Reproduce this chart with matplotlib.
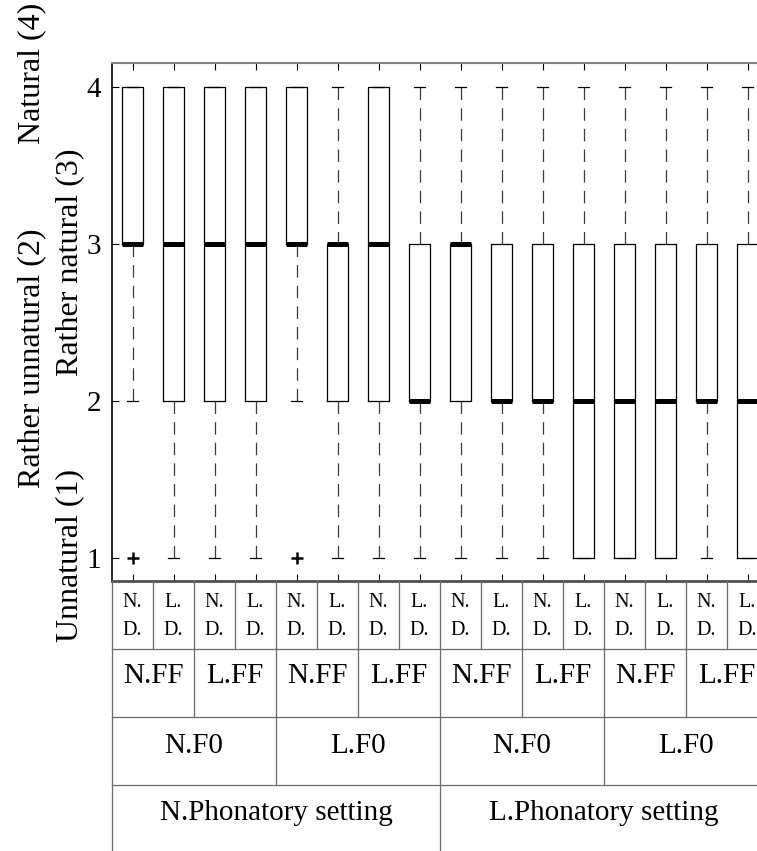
from matplotlib import pyplot as plt

plt.rcParams['font.family'] = ['Liberation Serif', 'DejaVu Serif']

# box statistics per condition (ratings 1..4)
q1 = [3, 2, 2, 2, 3, 2, 2, 2, 2, 2, 2, 1, 1, 1, 2, 1]
medians = [3, 3, 3, 3, 3, 3, 3, 2, 3, 2, 2, 2, 2, 2, 2, 2]
q3 = [4, 4, 4, 4, 4, 3, 4, 3, 3, 3, 3, 3, 3, 3, 3, 3]
whis_lo = [2, 1, 1, 1, 2, 1, 1, 1, 1, 1, 1, 1, 1, 1, 1, 1]
whis_hi = [4, 4, 4, 4, 4, 4, 4, 4, 4, 4, 4, 4, 4, 4, 4, 4]
outliers = [[1], [], [], [], [1], [], [], [], [], [], [], [], [], [], [], []]

# labels of the condition table under the plot
dur_top = ['N.', 'L.'] * 8
dur_bottom = ['D.'] * 16
ff_labels = ['N.FF', 'L.FF'] * 4
f0_labels = ['N.F0', 'L.F0'] * 2
setting_labels = ['N.Phonatory setting', 'L.Phonatory setting']
y_ticks = [1, 2, 3, 4]
y_names = ['Natural (4)', 'Rather unnatural (2)', 'Rather natural (3)', 'Unnatural (1)']

W, H = 757, 851
fig = plt.figure(figsize=(W / 100, H / 100), dpi=100)

# main axes (right edge runs past the picture, like the original crop)
ax_l, ax_r, ax_t, ax_b = 112, 768, 63, 581
ax = fig.add_axes([ax_l / W, 1 - ax_b / H, (ax_r - ax_l) / W, (ax_b - ax_t) / H])

stats = []
for i in range(len(medians)):
    stats.append(dict(med=medians[i], q1=q1[i], q3=q3[i],
                      whislo=whis_lo[i], whishi=whis_hi[i], fliers=outliers[i]))

ax.bxp(stats, positions=range(1, 17), widths=0.5, capwidths=0.25,
       boxprops=dict(color='black', lw=0.9),
       medianprops=dict(color='black', lw=3.6, solid_capstyle='butt'),
       whiskerprops=dict(color='#3a3a3a', lw=0.9, linestyle=(0, (10, 6.5))),
       capprops=dict(color='black', lw=0.9),
       flierprops=dict(marker='+', markersize=9, markeredgecolor='black', mew=1.8))

ax.set_xlim(0.5, 16.5)
ax.set_ylim(0.853, 4.153)
ax.set_yticks(y_ticks)
ax.set_xticks(range(1, 17))
ax.set_xticklabels([])
ax.tick_params(direction='in', length=5, width=0.8, top=True, right=True,
               labelsize=21, pad=8)
ax.spines['top'].set_color('#808080')
ax.spines['top'].set_linewidth(1.5)
ax.spines['bottom'].set_color('#505050')
ax.spines['bottom'].set_linewidth(2)
ax.spines['left'].set_linewidth(1.2)

# y axis names, rotated, in two columns
name_pos = [(32, 73), (32, 358), (70, 262), (70, 556)]
for name, (px, py) in zip(y_names, name_pos):
    fig.text(px / W, 1 - py / H, name, rotation=90, ha='center', va='center', fontsize=23)

# condition table under the plot, 4 rows of equal height
tab = fig.add_axes([ax_l / W, 1 - 853 / H, (ax_r - ax_l) / W, (853 - ax_b) / H])
tab.set_xlim(0.5, 16.5)
tab.set_ylim(4, 0)
tab.axis('off')
line_c = '#6a6a6a'
for r in range(1, 4):
    tab.plot([0.5, 16.5], [r, r], color=line_c, lw=0.9, clip_on=False)
for r, span in enumerate([1, 2, 4, 8]):
    for k in range(16 // span + 1):
        xb = 0.5 + k * span
        tab.plot([xb, xb], [r, r + 1], color=line_c, lw=0.9, clip_on=False)

for i in range(16):
    tab.text(i + 1, 0.38, dur_top[i], ha='center', va='baseline', fontsize=14.5)
    tab.text(i + 1, 0.79, dur_bottom[i], ha='center', va='baseline', fontsize=14.5)
for i, lab in enumerate(ff_labels):
    tab.text(1.5 + 2 * i, 1.5, lab, ha='center', va='baseline', fontsize=21)
for i, lab in enumerate(f0_labels):
    tab.text(2.5 + 4 * i, 2.53, lab, ha='center', va='baseline', fontsize=21)
for i, lab in enumerate(setting_labels):
    tab.text(4.5 + 8 * i, 3.51, lab, ha='center', va='baseline', fontsize=21)

plt.savefig('out.png')
